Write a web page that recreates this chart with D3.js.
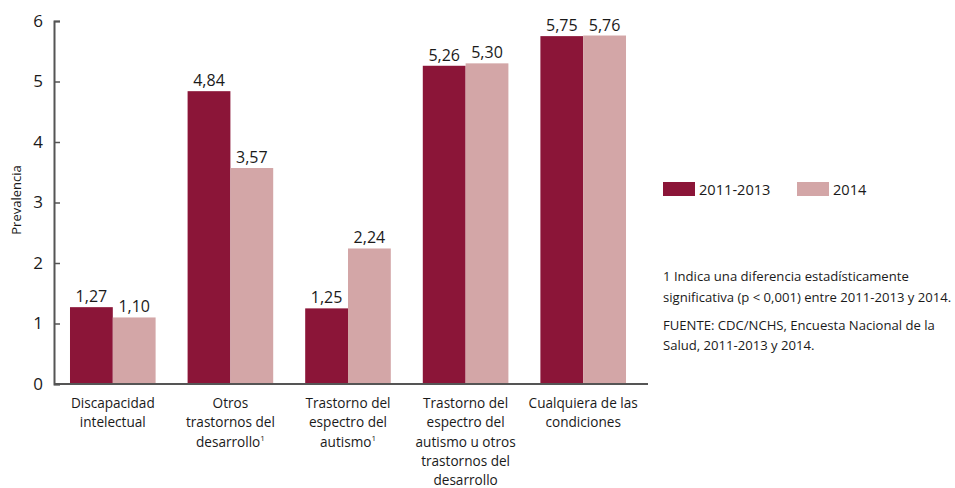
<!DOCTYPE html>
<html>
<head>
<meta charset="utf-8">
<script src="https://cdn.jsdelivr.net/npm/d3@7"></script>
<style>
  body { margin: 0; background: #fff; }
  svg { display: block; font-family: "Open Sans", "Noto Sans", sans-serif; }
</style>
</head>
<body>
<svg id="chart" width="955" height="488"></svg>
<script>
// Prevalence by condition, two survey periods
const categories = [
  ["Discapacidad", "intelectual"],
  ["Otros", "trastornos del", "desarrollo|1"],
  ["Trastorno del", "espectro del", "autismo|1"],
  ["Trastorno del", "espectro del", "autismo u otros", "trastornos del", "desarrollo"],
  ["Cualquiera de las", "condiciones"]
];
const series = ["2011-2013", "2014"];
const values2011 = [1.27, 4.84, 1.25, 5.26, 5.75];
const values2014 = [1.10, 3.57, 2.24, 5.30, 5.76];
const yTicks = [0, 1, 2, 3, 4, 5, 6];
const colors = ["#8b1538", "#d3a6a7"];
const notes = [
  "1 Indica una diferencia estadísticamente",
  "significativa (p < 0,001) entre 2011-2013 y 2014.",
  "FUENTE: CDC/NCHS, Encuesta Nacional de la",
  "Salud, 2011-2013 y 2014."
];

const svg = d3.select("#chart");
const x0 = 54, x1 = 648, yBase = 384, yTop = 21;

const x = d3.scaleBand()
  .domain(d3.range(categories.length))
  .range([x0, x1 - 6])
  .paddingInner(0.272)
  .paddingOuter(0.136);
const xs = d3.scaleBand().domain([0, 1]).range([0, x.bandwidth()]);
const y = d3.scaleLinear().domain([0, 6]).range([yBase, yTop]);

const fmt = v => d3.format(".2f")(v).replace(".", ",");

const rows = categories.map((c, i) => ({ i, vals: [values2011[i], values2014[i]] }));

// bars with value labels
const g = svg.append("g");
rows.forEach(r => {
  r.vals.forEach((v, s) => {
    g.append("rect")
      .attr("x", x(r.i) + xs(s))
      .attr("y", y(v))
      .attr("width", xs.bandwidth())
      .attr("height", y(0) - y(v))
      .attr("fill", colors[s]);
    g.append("text")
      .attr("x", x(r.i) + xs(s) + xs.bandwidth() / 2)
      .attr("y", y(v) - 5)
      .attr("text-anchor", "middle")
      .attr("font-size", 16)
      .attr("fill", "#1a1a1a")
      .text(fmt(v));
  });
});

// y axis
const yAxis = d3.axisRight(y).tickValues(yTicks).tickSize(6).tickFormat(d3.format("d"));
const ya = svg.append("g").attr("transform", `translate(${x0},0)`).call(yAxis);
ya.select(".domain").attr("stroke", "#555").attr("stroke-width", 2);
ya.selectAll(".tick line").attr("stroke", "#555").attr("stroke-width", 1.5);
ya.selectAll(".tick text")
  .attr("x", -11)
  .attr("text-anchor", "end")
  .attr("font-size", 17)
  .attr("font-family", "Open Sans, sans-serif")
  .attr("fill", "#1a1a1a");

// x baseline
svg.append("line")
  .attr("x1", x0).attr("x2", x1)
  .attr("y1", yBase).attr("y2", yBase)
  .attr("stroke", "#555").attr("stroke-width", 2);

// y title
svg.append("text")
  .attr("transform", "translate(21,200) rotate(-90)")
  .attr("text-anchor", "middle")
  .attr("font-size", 13)
  .attr("fill", "#1a1a1a")
  .text("Prevalencia");

// category labels
categories.forEach((lines, i) => {
  const t = svg.append("text")
    .attr("text-anchor", "middle")
    .attr("font-size", 13.6)
    .attr("fill", "#1a1a1a");
  lines.forEach((ln, k) => {
    const [main, sup] = ln.split("|");
    t.append("tspan")
      .attr("x", x(i) + x.bandwidth() / 2)
      .attr("y", 408 + k * 19.3)
      .text(main);
    if (sup) {
      t.append("tspan").attr("font-size", 8).attr("dy", -6).text(sup);
    }
  });
});

// legend
const legend = svg.append("g");
const legX = [663, 797];
series.forEach((s, k) => {
  legend.append("rect")
    .attr("x", legX[k]).attr("y", 182)
    .attr("width", 32).attr("height", 14)
    .attr("fill", colors[k]);
  legend.append("text")
    .attr("x", legX[k] + 36).attr("y", 195)
    .attr("font-size", 14.6)
    .attr("fill", "#1a1a1a")
    .text(s);
});

// notes
const noteY = [281, 302, 330, 350];
notes.forEach((n, k) => {
  svg.append("text")
    .attr("x", 663).attr("y", noteY[k])
    .attr("font-size", 13.1)
    .attr("fill", "#1a1a1a")
    .text(n);
});
</script>
</body>
</html>
